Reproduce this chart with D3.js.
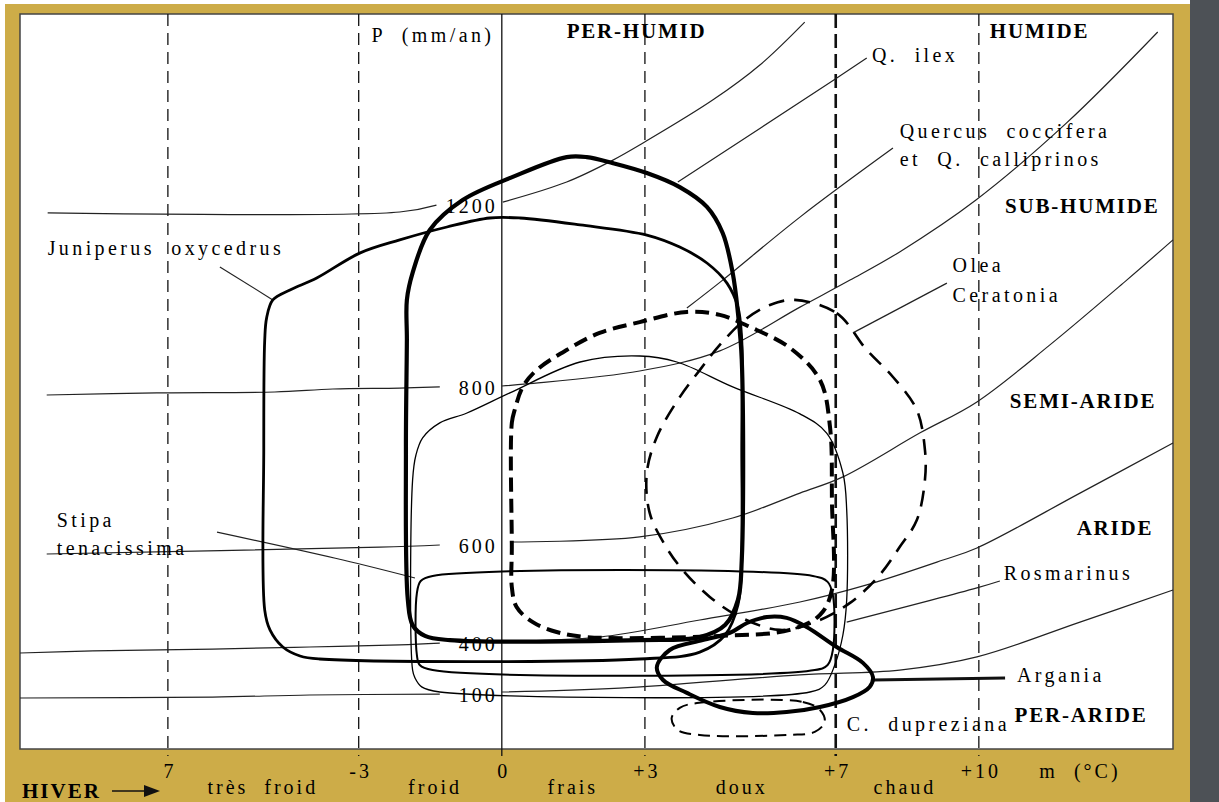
<!DOCTYPE html>
<html lang="fr">
<head>
<meta charset="UTF-8">
<title>Climagramme d'Emberger</title>
<style>
    body { margin: 0; background: #fff; }
    svg text { font-family: "Liberation Serif", "DejaVu Serif", serif; fill: #000; }
    .sp { font-size: 20px; letter-spacing: 3.4px; word-spacing: 8px; }
    .zone { font-size: 21px; font-weight: bold; letter-spacing: 1.8px; }
    .ax { font-size: 20px; letter-spacing: 3px; word-spacing: 8px; }
</style>
</head>
<body>
<div id="chart"></div>
<script src="https://d3js.org/d3.v7.min.js"></script>
<script>
// m (°C) along x, pluviothermic quotient Q2 along y
const mTicks = [-7, -3, 0, 3, 7, 10];
const mTickLabels = ["7", "-3", "0", "+3", "+7", "+10"];
const seasons = ["très froid", "froid", "frais", "doux", "chaud"];
const seasonM = [-5.01, -1.40, 1.49, 5.03, 8.45];

const pLabels = ["1200", "800", "600", "400", "100"];
const pLabelQ = [181.3, 120.7, 68, 35.3, 18.3];

// isohyets / bioclimatic limits [m, Q2]
const iso1200L = [[-9.52,178.7],[-2.14,179],[-1.37,181.3]];
const iso1200R = [[0.02,182.3],[1.36,189],[2.33,196.3],[2.96,202],[4.42,216.3],[5.41,228],[6.35,242.3]];
const iso800L = [[-9.54,118],[-7.23,118.7],[-4.76,119],[-3.54,120],[-2.14,120.3],[-1.30,120.7]];
const iso800R = [[0,121],[0.52,121.7],[2.89,126],[4.57,132.7],[6.25,147.3],[7.30,156.3],[8.34,165.7],[9.94,183],[11.84,208.7],[13.75,239]];
const iso600L = [[-9.54,65],[-2.56,67.3],[-1.30,68]];
const iso600R = [[0.17,69],[2.89,70.7],[4.84,77],[6.25,85.3],[7.15,90.7],[8.76,105.3],[9.96,115.7],[11.49,134.7],[13.10,156.3],[14.07,169.7]];
const iso400L = [[-10.10,32],[-8.57,32.7],[-6.06,33.3],[-4.03,34],[-2.14,34.7],[-1.30,35.3]];
const iso400R = [[0,36],[2.05,37.3],[4.15,43],[6.25,49],[7.65,54.7],[9.25,63],[9.96,67],[12.12,85.3],[14.07,102]];
const iso100L = [[-10.10,17],[-6.06,17.3],[-4.03,18],[-1.30,18.3]];
const iso100R = [[0,19],[2.47,20.3],[6.25,24.7],[8.34,26.3],[9.96,30.7],[12.12,42.3],[14.07,53]];

// leader lines
const leadJuniperus = [[-5.91,160.7],[-4.80,149.7]];
const leadIlex = [[3.69,189],[6.96,223],[7.65,230.3]];
const leadQuercus = [[3.88,147],[4.63,156.3],[6.25,177.3],[8.20,200.3]];
const leadOlea = [[7.36,138.7],[9.33,155.3]];
const leadStipa = [[-5.97,72.3],[-3.33,63],[-1.82,57]];
const leadRosmarinus = [[7.23,42.3],[9.96,53.7],[10.44,56]];
const leadArgania = [[7.78,23],[10.55,23.7]];

// species envelopes
const juniperus = [[-4.80,149.7],[-4.44,153],[-3.88,157],[-2.98,165.3],[-2.14,169.7],[-1.15,174],[-0.25,177],[0.38,177],[1.64,174.7],[3.04,171.3],[3.73,167.3],[4.30,162],[4.72,155.3],[4.95,147.3],[5.03,136.3],[5.03,99.7],[5.03,63],[4.95,48],[4.68,38],[4.15,32.3],[2.89,30],[-3.82,30],[-4.23,31],[-4.59,34],[-4.86,39.7],[-4.97,46.3],[-4.99,99.7],[-4.97,136.3],[-4.93,143.7]];
const qIlex = [[-1.99,136.3],[-1.99,149.7],[-1.87,158.7],[-1.51,173],[-0.82,183],[0.23,190.7],[1.36,197.3],[1.78,197.3],[2.33,195.3],[3.04,192],[3.73,187.3],[4.30,180.7],[4.63,172],[4.84,158.7],[4.95,145.3],[5.03,129.7],[5.03,63],[4.95,49.7],[4.68,41.3],[4.15,37.3],[2.89,36.3],[-1.09,36.3],[-1.61,37.7],[-1.87,41.3],[-1.97,49.7],[-2.01,99.7]];
const quercus = [[0.21,67.3],[0.21,108.7],[0.27,113],[0.44,120.7],[0.73,126.3],[1.36,133],[2.05,138.7],[2.89,142.3],[3.88,145.7],[4.57,144.7],[5.20,140.7],[6.04,133.7],[6.67,123],[6.88,107.3],[6.92,83],[6.92,53],[6.67,44.7],[6.04,39.7],[4.57,37.7],[1.78,37.3],[1.15,39],[0.65,42.3],[0.31,47.3],[0.21,54]];
const olea = [[6.14,149.7],[7.02,145.3],[7.65,133],[8.20,124],[8.70,113],[8.87,99.7],[8.87,89.7],[8.70,76.3],[8.34,67.3],[7.92,58],[7.30,48.7],[6.56,42.3],[5.83,39.7],[4.99,44],[4.36,50.7],[3.79,59.7],[3.42,68],[3.10,78.7],[3.04,92],[3.25,104],[3.73,117.3],[4.15,126.3],[4.57,134.7],[5.09,143],[5.62,148]];
const rosmarinus = [[-1.87,26.3],[-1.87,89.7],[-1.80,98],[-1.66,103.7],[-1.30,108.7],[-0.73,112],[0.17,118.7],[1.64,129],[2.89,131],[3.67,129],[4.84,120.7],[6.25,111.7],[6.81,105.3],[7.15,92],[7.23,79.7],[7.23,49.7],[7.15,38],[6.98,28],[6.77,21.3],[6.46,19],[-1.30,19],[-1.68,20.7],[-1.82,23.7]];
const stipa = [[-1.45,57.7],[6.52,57.7],[6.83,55.7],[6.94,51.3],[6.94,33],[6.83,28],[6.56,26.3],[-1.45,26.3],[-1.72,28],[-1.78,31.3],[-1.78,52],[-1.70,56]];
const argania = [[3.25,27.3],[3.52,33],[4.21,36.3],[4.78,38.7],[5.14,42],[5.56,44],[5.97,43.7],[6.39,40.7],[7.02,34],[7.57,28.7],[7.78,24],[7.71,20.7],[7.36,17.3],[6.67,14],[5.97,12.3],[5.26,12],[4.57,14],[3.88,18.7],[3.38,23]];
const dupreziana = [[4.09,15.3],[6.31,15.7],[6.67,13],[6.77,9],[6.56,5.7],[6.04,4.7],[4.15,4.7],[3.69,6.3],[3.56,10.3],[3.73,13.7]];

const speciesText = ["Juniperus oxycedrus", "Q. ilex", "Quercus coccifera", "et Q. calliprinos", "Olea", "Ceratonia", "Rosmarinus", "Argania", "C. dupreziana", "Stipa", "tenacissima", "P (mm/an)"];
const speciesAt = [[-9.52,164.7],[7.76,229],[8.34,203.7],[8.34,194.3],[9.45,159],[9.45,149],[10.52,56.3],[10.80,22.3],[7.23,6],[-9.33,74],[-9.33,64.7],[-2.73,235.7]];
const zoneText = ["PER-HUMID", "HUMIDE", "SUB-HUMIDE", "SEMI-ARIDE", "ARIDE", "PER-ARIDE"];
const zoneAt = [[1.36,237],[10.23,237],[10.55,178.7],[10.65,113.7],[12.05,71.3],[10.75,9]];

const W = 1219, H = 802;
const svg = d3.select("#chart").append("svg").attr("width", W).attr("height", H);

const x = d3.scaleLinear().domain([-10.1, 14.07]).range([20, 1173]);
const y = d3.scaleLinear().domain([0, 245]).range([749, 14]);

// frame
svg.append("rect").attr("x", 5).attr("y", 4).attr("width", 1185).attr("height", H - 4).attr("fill", "#cdac48");
svg.append("rect").attr("x", 1190).attr("y", 0).attr("width", W - 1190).attr("height", H).attr("fill", "#4d5156");
svg.append("rect").attr("x", x(-10.1)).attr("y", y(245)).attr("width", x(14.07) - x(-10.1)).attr("height", y(0) - y(245))
    .attr("fill", "#fff").attr("stroke", "#444").attr("stroke-width", 1.5);

// vertical m lines
svg.append("g").selectAll("line").data(mTicks).join("line")
    .attr("x1", d => x(d)).attr("x2", d => x(d))
    .attr("y1", y(245)).attr("y2", y(0) + 7)
    .attr("stroke", "#111")
    .attr("stroke-width", d => d === 7 ? 2.6 : 1.3)
    .attr("stroke-dasharray", d => d === 0 ? null : (d === 7 ? "14,6" : "12,7"));

const line = d3.line().x(d => x(d[0])).y(d => y(d[1])).curve(d3.curveCatmullRom.alpha(0.5));
const closed = d3.line().x(d => x(d[0])).y(d => y(d[1])).curve(d3.curveCatmullRomClosed.alpha(0.5));

// isolines and leaders
const thin = [iso1200L, iso1200R, iso800L, iso800R, iso600L, iso600R, iso400L, iso400R, iso100L, iso100R,
    leadJuniperus, leadIlex, leadQuercus, leadOlea, leadStipa, leadRosmarinus];
svg.append("g").selectAll("path").data(thin).join("path")
    .attr("d", line).attr("fill", "none").attr("stroke", "#222").attr("stroke-width", 1.2);
svg.append("path").attr("d", line(leadArgania)).attr("fill", "none").attr("stroke", "#111").attr("stroke-width", 3);

// envelopes
const envelopes = [
    { pts: rosmarinus, w: 1.3, dash: null },
    { pts: stipa, w: 2, dash: null },
    { pts: juniperus, w: 2.8, dash: null },
    { pts: qIlex, w: 4.2, dash: null },
    { pts: olea, w: 2.6, dash: "16,10" },
    { pts: quercus, w: 4, dash: "14,7" },
    { pts: argania, w: 4, dash: null },
    { pts: dupreziana, w: 2, dash: "12,7" }
];
svg.append("g").selectAll("path").data(envelopes).join("path")
    .attr("d", d => closed(d.pts))
    .attr("fill", "none").attr("stroke", "#000")
    .attr("stroke-width", d => d.w)
    .attr("stroke-dasharray", d => d.dash)
    .attr("stroke-linejoin", "round");

// P labels on the m = 0 line
svg.append("g").selectAll("text").data(pLabels).join("text")
    .attr("class", "ax")
    .attr("x", x(0) - 4).attr("y", (d, i) => y(pLabelQ[i]) + 8)
    .attr("text-anchor", "end").style("font-size", "20px")
    .text(d => d);

// species labels
svg.append("g").selectAll("text").data(speciesText).join("text")
    .attr("class", "sp")
    .attr("x", (d, i) => x(speciesAt[i][0])).attr("y", (d, i) => y(speciesAt[i][1]))
    .text(d => d);

// zone labels
svg.append("g").selectAll("text").data(zoneText).join("text")
    .attr("class", "zone")
    .attr("x", (d, i) => x(zoneAt[i][0])).attr("y", (d, i) => y(zoneAt[i][1]))
    .text(d => d);

// bottom axis
svg.append("g").selectAll("text").data(mTickLabels).join("text")
    .attr("class", "ax").attr("text-anchor", "middle")
    .attr("x", (d, i) => x(mTicks[i]) + 2).attr("y", 778)
    .text(d => d);
svg.append("text").attr("class", "ax").attr("text-anchor", "middle")
    .attr("x", x(12.12)).attr("y", 778).text("m (°C)");
svg.append("g").selectAll("text").data(seasons).join("text")
    .attr("class", "ax").attr("text-anchor", "middle")
    .attr("x", (d, i) => x(seasonM[i])).attr("y", 794)
    .text(d => d);

svg.append("text").attr("class", "zone").attr("x", 22).attr("y", 798).style("letter-spacing", "2px").text("HIVER");
svg.append("line").attr("x1", 112).attr("x2", 148).attr("y1", 791).attr("y2", 791).attr("stroke", "#111").attr("stroke-width", 1.6);
svg.append("path").attr("d", "M144,785 L160,791 L144,797 Z").attr("fill", "#111");
</script>
</body>
</html>
